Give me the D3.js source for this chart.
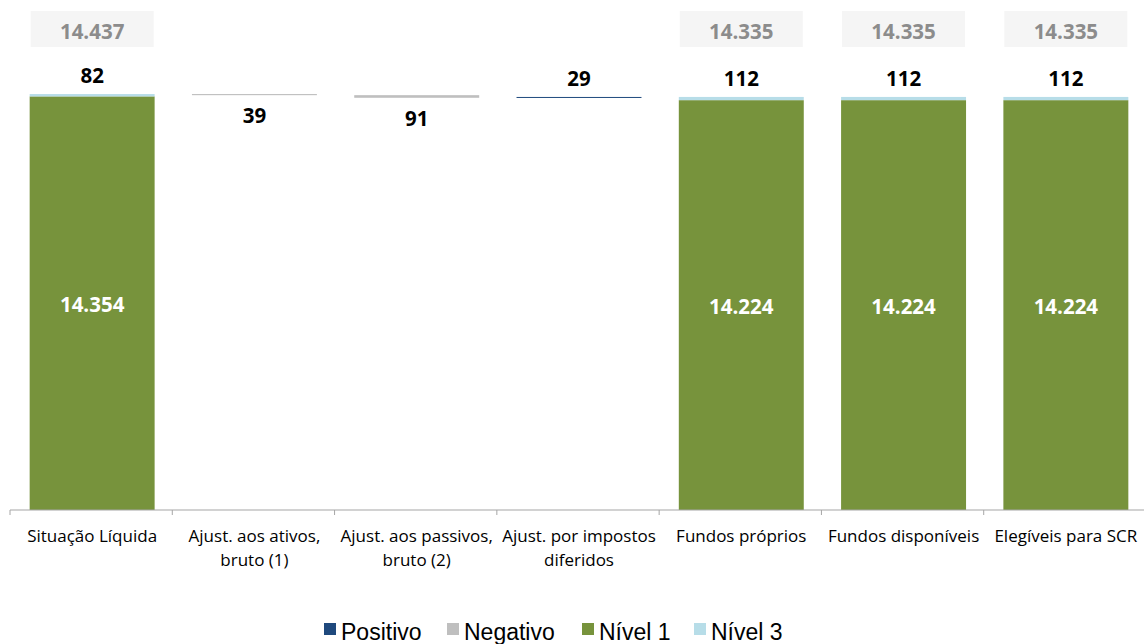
<!DOCTYPE html>
<html><head><meta charset="utf-8">
<script src="https://cdn.jsdelivr.net/npm/d3@7"></script>
<style>body{margin:0;background:#fff}svg{display:block}</style>
</head><body>
<svg id="c" width="1144" height="644"></svg>
<script>
const categories = [["Situação Líquida"],["Ajust. aos ativos,","bruto (1)"],["Ajust. aos passivos,","bruto (2)"],["Ajust. por impostos","diferidos"],["Fundos próprios"],["Fundos disponíveis"],["Elegíveis para SCR"]];
const nivel1 = [14354, null, null, null, 14224, 14224, 14224];
const nivel3 = [82, null, null, null, 112, 112, 112];
const positivo = [null, null, null, 29, null, null, null];
const negativo = [null, 39, 91, null, null, null, null];
const totals = ["14.437", null, null, null, "14.335", "14.335", "14.335"];
const legendNames = ["Positivo","Negativo","Nível 1","Nível 3"];
const colors = {Positivo:"#1f497d", Negativo:"#bfbfbf", "Nível 1":"#77933c", "Nível 3":"#b7dde8"};

const fmt = v => d3.format(",")(v).replace(/,/g, ".");
const svg = d3.select("#c");
const x = d3.scaleBand().domain(d3.range(categories.length)).range([10, 1146]).paddingInner(0.23).paddingOuter(0.115);
const y = d3.scaleLinear().domain([0, 17700]).range([510, 0]);
const step = x.step();

let level = 0;
const segs = [];
categories.forEach((c, i) => {
  if (nivel1[i] != null) {
    segs.push({i, k:"Nível 1", y0:0, y1:nivel1[i], v:nivel1[i]});
    segs.push({i, k:"Nível 3", y0:nivel1[i], y1:nivel1[i]+nivel3[i], v:nivel3[i]});
    level = nivel1[i] + nivel3[i];
  } else if (negativo[i] != null) {
    segs.push({i, k:"Negativo", y0:level-negativo[i], y1:level, v:negativo[i]});
    level -= negativo[i];
  } else if (positivo[i] != null) {
    segs.push({i, k:"Positivo", y0:level, y1:level+positivo[i], v:positivo[i]});
    level += positivo[i];
  }
});

svg.append("g").selectAll("rect").data(segs).join("rect")
  .attr("x", d => x(d.i) + 1).attr("width", x.bandwidth())
  .attr("y", d => y(d.y1)).attr("height", d => Math.max(1, y(d.y0) - y(d.y1)))
  .attr("fill", d => colors[d.k]);

const axisG = svg.append("g").attr("transform", "translate(0,510)");
axisG.append("line").attr("x1", 10).attr("x2", 1146).attr("stroke", "#a6a6a6").attr("stroke-width", 1.2);
axisG.selectAll("line.t").data(d3.range(categories.length + 1)).join("line").attr("class","t")
  .attr("x1", i => 10 + i*step).attr("x2", i => 10 + i*step).attr("y1", 0).attr("y2", 5)
  .attr("stroke", "#a6a6a6");
axisG.selectAll("text").data(categories).join("text")
  .attr("text-anchor", "middle").attr("font-family", "Open Sans").attr("font-size", 17).attr("fill", "#000")
  .each(function(lines, i){
    const t = d3.select(this);
    lines.forEach((l, j) => t.append("tspan").attr("x", x(i) + 1 + x.bandwidth()/2).attr("y", 32 + j*24).text(l));
  });

const lab = svg.append("g").attr("font-family", "Open Sans").attr("font-weight", "bold").attr("text-anchor", "middle");
segs.forEach(d => {
  const cx = x(d.i) + 1 + x.bandwidth()/2;
  if (d.k === "Nível 1") {
    lab.append("text").attr("x", cx).attr("y", (y(d.y0)+y(d.y1))/2 + 9).attr("fill", "#fff").attr("font-size", 20.5).text(fmt(d.v));
  } else if (d.k === "Negativo") {
    lab.append("text").attr("x", cx).attr("y", y(d.y0) + 28).attr("fill", "#000").attr("font-size", 20.5).text(fmt(d.v));
  } else {
    lab.append("text").attr("x", cx).attr("y", y(d.y1) - 11).attr("fill", "#000").attr("font-size", 20.5).text(fmt(d.v));
  }
});

categories.forEach((c, i) => {
  if (!totals[i]) return;
  const cx = x(i) + 1 + x.bandwidth()/2;
  svg.append("rect").attr("x", cx - 61.5).attr("y", 11).attr("width", 123).attr("height", 36).attr("fill", "#f5f5f5");
  svg.append("text").attr("x", cx).attr("y", 38.5).attr("text-anchor", "middle").attr("font-family", "Open Sans")
    .attr("font-weight", "bold").attr("font-size", 20.5).attr("fill", "#8c8c8c").text(totals[i]);
});

const legX = [324, 447, 582, 694];
const lg = svg.append("g").attr("transform", "translate(0,633)");
legendNames.forEach((n, i) => {
  lg.append("rect").attr("x", legX[i]).attr("y", -10).attr("width", 12).attr("height", 12).attr("fill", colors[n]);
  lg.append("text").attr("x", legX[i] + 17).attr("y", 7).attr("font-family", "Liberation Sans, Arial").attr("font-size", 23).attr("fill", "#000").text(n);
});
</script>
</body></html>
